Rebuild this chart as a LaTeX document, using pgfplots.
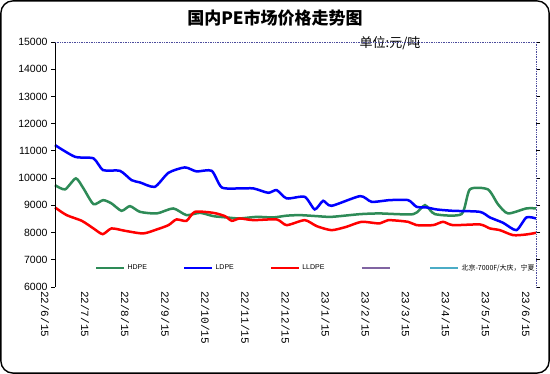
\documentclass[border=0pt]{standalone}
\usepackage{pgfplots}
\pgfplotsset{compat=1.18}
\usepackage{fontspec}
\setmainfont{Liberation Sans}
\newfontfamily\cjk{Noto Sans CJK SC}
\newfontfamily\mono{Liberation Mono}
\definecolor{hdpe}{RGB}{46,139,87}
\definecolor{ldpe}{RGB}{0,0,255}
\definecolor{lldpe}{RGB}{255,0,0}
\definecolor{purp}{RGB}{128,100,162}
\definecolor{cyanL}{RGB}{75,172,198}
\begin{document}
\begin{tikzpicture}
\useasboundingbox (0pt,0pt) rectangle (550pt,374pt);
\fill[white] (0pt,0pt) rectangle (550pt,374pt);
\draw[rounded corners=12pt, line width=1.4pt] (0.9pt,0.9pt) rectangle (549.1pt,373.1pt);
\node[font=\cjk\bfseries\fontsize{17}{17}\selectfont] at (275pt,356pt) {国内PE市场价格走势图};
\node[font=\cjk\fontsize{13}{13}\selectfont] at (390pt,331pt) {单位:元/吨};
\begin{axis}[
  at={(55pt,87pt)}, anchor=south west,
  scale only axis, width=481pt, height=245pt,
  xmin=0, xmax=12, ymin=6000, ymax=15000,
  axis line style={draw=none},
  xtick={0,...,12},
  xticklabels={22/6/15,22/7/15,22/8/15,22/9/15,22/10/15,22/11/15,22/12/15,23/1/15,23/2/15,23/3/15,23/4/15,23/5/15,23/6/15},
  xticklabel style={rotate=-90, anchor=west, font=\mono\fontsize{11}{11}\selectfont, inner sep=0pt},
  x tick label style={yshift=-10pt},
  ytick={6000,7000,...,15000},
  scaled y ticks=false,
  yticklabel style={font=\fontsize{10.5}{10.5}\selectfont},
  /pgf/number format/1000 sep={},
  /pgf/number format/assume math mode=true,
  tick align=outside,
  ytick style={black, line width=0.8pt},
  major tick length=4pt,
  xtick style={draw=none},
  legend columns=5,
  legend style={draw=none, fill=none, at={(0.083,0.078)}, anchor=west,
     inner sep=0pt, font=\fontsize{7}{7}\selectfont,
     /tikz/every even column/.append style={column sep=34pt}},
  legend cell align=left,
  legend image code/.code={\draw[#1, line width=2.5pt] (0pt,0pt) -- (28pt,0pt);},
  clip=false,
]
\addplot[hdpe, line width=2.5pt, smooth, tension=0.4] coordinates {
(0,9743) (0.25,9585) (0.52,9989) (0.71,9621) (0.96,9044) (1.2,9191) (1.41,9070) (1.66,8798) (1.87,8971) (2.12,8761) (2.54,8702) (2.95,8886) (3.28,8640) (3.62,8724) (3.95,8603) (4.28,8555) (4.61,8518) (5.03,8577) (5.44,8555) (5.78,8620) (6.11,8640) (6.53,8603) (6.9,8577) (7.61,8676) (8.1,8702) (8.94,8676) (9.23,9007) (9.48,8676) (10.14,8676) (10.35,9585) (10.8,9585) (11.05,9044) (11.3,8702) (11.76,8886) (12,8886)
};
\addlegendentry{HDPE}
\addplot[ldpe, line width=2.5pt, smooth, tension=0.4] coordinates {
(0,11213) (0.5,10783) (0.96,10724) (1.2,10294) (1.62,10268) (1.91,9926) (2.12,9842) (2.49,9680) (2.83,10195) (3.24,10393) (3.53,10246) (3.91,10268) (4.16,9658) (4.61,9621) (4.95,9621) (5.32,9460) (5.53,9559) (5.78,9254) (6.23,9313) (6.48,8849) (6.69,9166) (6.9,8982) (7.61,9338) (7.9,9129) (8.35,9191) (8.81,9191) (9.02,8945) (9.27,8922) (9.52,8849) (9.93,8798) (10.6,8761) (10.85,8555) (11.18,8357) (11.51,8088) (11.76,8555) (12,8518)
};
\addlegendentry{LDPE}
\addplot[lldpe, line width=2.5pt, smooth, tension=0.4] coordinates {
(0,8923) (0.29,8640) (0.67,8430) (0.96,8151) (1.19,7941) (1.41,8151) (1.75,8063) (2.2,7967) (2.54,8114) (2.83,8272) (3.03,8482) (3.28,8430) (3.49,8761) (3.95,8724) (4.24,8603) (4.41,8430) (4.61,8518) (4.95,8456) (5.53,8482) (5.78,8272) (6.23,8456) (6.53,8235) (6.9,8088) (7.27,8211) (7.65,8394) (8.1,8334) (8.31,8456) (8.81,8394) (9.02,8272) (9.43,8272) (9.68,8394) (9.93,8272) (10.6,8298) (10.85,8151) (11.1,8088) (11.43,7904) (11.76,7930) (12,7990)
};
\addlegendentry{LLDPE}
\addlegendimage{purp, line width=2.5pt}
\addlegendentry{}
\addlegendimage{cyanL, line width=2.5pt}
\addlegendentry{\cjk 北京-7000F/大庆，宁夏}
\draw[black, line width=0.8pt] (rel axis cs:0,0) -- (rel axis cs:0,1);
\draw[black!55!blue!70, densely dotted, line width=0.7pt] (rel axis cs:0,1) -- (rel axis cs:1,1) -- (rel axis cs:1,0);
\end{axis}
\end{tikzpicture}
\end{document}
